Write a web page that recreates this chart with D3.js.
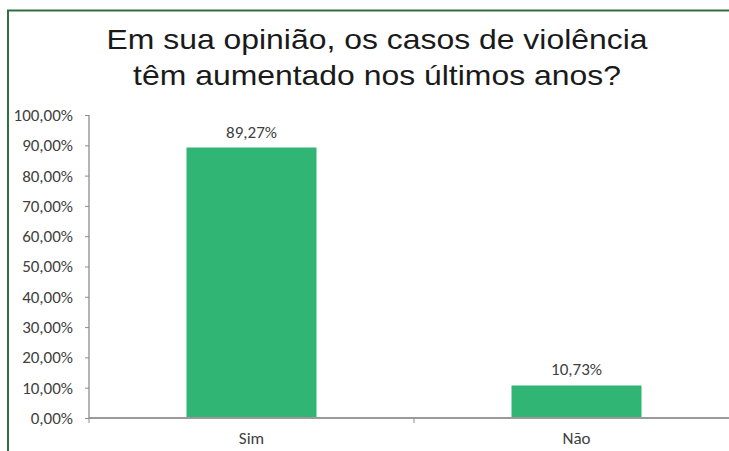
<!DOCTYPE html>
<html>
<head>
<meta charset="utf-8">
<script src="https://cdn.jsdelivr.net/npm/d3@7"></script>
<style>
  body { margin: 0; background: #fff; }
  svg { display: block; }
</style>
</head>
<body>
<svg id="chart"></svg>
<script>
var titleLines = ["Em sua opinião, os casos de violência", "têm aumentado nos últimos anos?"];
var categories = ["Sim", "Não"];
var values = [89.27, 10.73];
var yTicks = [0, 10, 20, 30, 40, 50, 60, 70, 80, 90, 100];

var W = 729, H = 451,
    margin = {top: 115, left: 89, right: -10, bottom: 33},
    width = W - margin.left - margin.right,
    height = H - margin.top - margin.bottom;

var svg = d3.select("#chart").attr("width", W).attr("height", H);

// frame (cut off on the right and bottom)
svg.append("path")
  .attr("d", "M8,451 V10.5 H729")
  .attr("fill", "none")
  .attr("stroke", "#2f6f40")
  .attr("stroke-width", 2);

// title, a bit stretched sideways like the original
svg.append("g")
  .attr("transform", "translate(377,0) scale(1.12,1)")
  .selectAll("text")
  .data(titleLines)
  .enter().append("text")
    .attr("x", 0)
    .attr("y", function(d, i) { return 49 + i * 36; })
    .attr("text-anchor", "middle")
    .attr("font-family", "'Liberation Sans', Arial, sans-serif")
    .attr("font-size", 28.5)
    .attr("fill", "#1a1a1a")
    .text(function(d) { return d; });

var g = svg.append("g").attr("transform", "translate(" + margin.left + "," + margin.top + ")");

var x = d3.scaleBand().domain(categories).range([0, width]).paddingInner(0.6).paddingOuter(0.3),
    y = d3.scaleLinear().domain([0, 100]).range([height, 0]);

var fmt = function(v) { return v.toFixed(2).replace(".", ",") + "%"; };
var font = "Carlito, Lato, 'Open Sans', sans-serif";

// y axis
var yAxis = g.append("g")
  .attr("class", "axis yaxis")
  .call(d3.axisLeft(y).tickValues(yTicks).tickSize(4).tickPadding(12).tickFormat(fmt));
yAxis.select(".domain").attr("stroke", "#8c8c8c").attr("stroke-width", 1.3).attr("d", "M0," + y(100) + "V" + y(0));
yAxis.selectAll(".tick line").attr("stroke", "#8c8c8c");
yAxis.selectAll("text").attr("font-family", font).attr("font-size", 17).attr("fill", "#404040");

// bars
g.selectAll(".bar")
  .data(values)
  .enter().append("rect")
    .attr("class", "bar")
    .attr("x", function(d, i) { return x(categories[i]); })
    .attr("y", function(d) { return y(d); })
    .attr("width", x.bandwidth())
    .attr("height", function(d) { return y(0) - y(d); })
    .attr("fill", "#31b574");

// value labels
g.selectAll(".lbl")
  .data(values)
  .enter().append("text")
    .attr("class", "lbl")
    .attr("x", function(d, i) { return x(categories[i]) + x.bandwidth() / 2; })
    .attr("y", function(d) { return y(d) - 10; })
    .attr("text-anchor", "middle")
    .attr("font-family", font)
    .attr("font-size", 17)
    .attr("fill", "#404040")
    .text(fmt);

// x axis
var step = x.step();
var xAxis = g.append("g")
  .attr("class", "axis xaxis")
  .attr("transform", "translate(0," + height + ")")
  .call(d3.axisBottom(x).tickSize(0).tickPadding(14));
xAxis.select(".domain").attr("stroke", "#9a9a9a").attr("stroke-width", 2).attr("d", "M0,0H" + width);
xAxis.selectAll("text").attr("font-family", font).attr("font-size", 17).attr("fill", "#404040");
// category separator ticks
xAxis.selectAll(".sep")
  .data(d3.range(categories.length + 1))
  .enter().append("line")
    .attr("class", "sep")
    .attr("x1", function(i) { return x(categories[0]) - x.paddingOuter() * step + i * step; })
    .attr("x2", function(i) { return x(categories[0]) - x.paddingOuter() * step + i * step; })
    .attr("y1", 0).attr("y2", 5)
    .attr("stroke", "#8c8c8c");
</script>
</body>
</html>
